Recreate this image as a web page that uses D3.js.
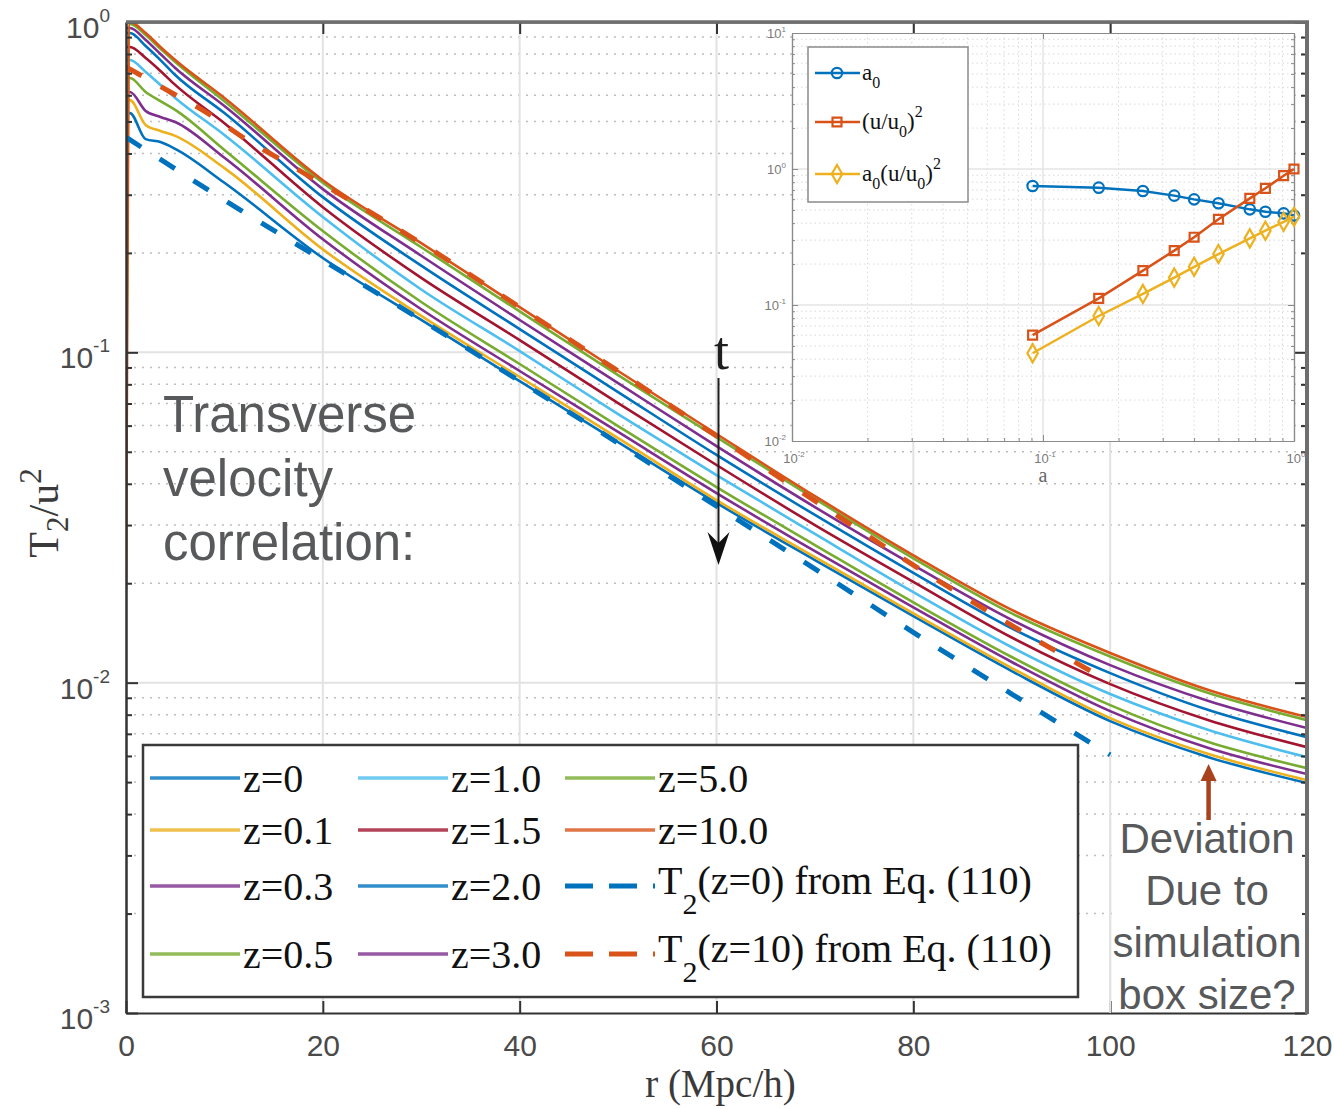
<!DOCTYPE html>
<html>
<head>
<meta charset="utf-8">
<script src="https://cdn.jsdelivr.net/npm/d3@7"></script>
<style>
body { margin: 0; background: #fff; }
text { font-family: "Liberation Sans", Arial, sans-serif; }
.serif { font-family: "Liberation Serif", "Times New Roman", serif; }
</style>
</head>
<body>
<div id="chart-area"></div>
<script>
// DATA
var rGrid = [0, 0.4, 2, 3.5, 5, 10, 20, 30, 40, 50, 60, 70, 80, 90, 100, 110, 120];

var t2_z0   = [0.530, 0.530, 0.442, 0.433, 0.413, 0.326, 0.193, 0.1253, 0.0818, 0.0535, 0.0350, 0.0235, 0.0159, 0.01084, 0.00765, 0.00595, 0.00497];
var t2_z0_1 = [0.580, 0.580, 0.488, 0.468, 0.452, 0.361, 0.205, 0.129, 0.0842, 0.0550, 0.0357, 0.0240, 0.0162, 0.01107, 0.00781, 0.00608, 0.00507];
var t2_z0_3 = [0.614, 0.614, 0.538, 0.516, 0.498, 0.388, 0.220, 0.135, 0.0878, 0.0574, 0.0375, 0.0250, 0.0169, 0.01155, 0.00820, 0.00634, 0.00529];
var t2_z0_5 = [0.677, 0.677, 0.614, 0.576, 0.542, 0.410, 0.233, 0.142, 0.0922, 0.0598, 0.0391, 0.0261, 0.0175, 0.01196, 0.00855, 0.00661, 0.00551];
var t2_z1_0 = [0.767, 0.767, 0.706, 0.645, 0.589, 0.455, 0.257, 0.155, 0.1009, 0.0650, 0.0425, 0.0282, 0.0188, 0.0128, 0.00924, 0.00719, 0.00595];
var t2_z1_5 = [0.840, 0.840, 0.778, 0.711, 0.645, 0.494, 0.275, 0.168, 0.1089, 0.0702, 0.0456, 0.0300, 0.0202, 0.0137, 0.00990, 0.00770, 0.00638];
var t2_z2_0 = [0.926, 0.926, 0.846, 0.767, 0.691, 0.530, 0.295, 0.183, 0.1176, 0.0758, 0.0489, 0.0322, 0.0215, 0.0146, 0.01069, 0.00826, 0.00684];
var t2_z3_0 = [0.959, 0.959, 0.882, 0.800, 0.726, 0.557, 0.312, 0.196, 0.1253, 0.0807, 0.0520, 0.0340, 0.0227, 0.0155, 0.0113, 0.00880, 0.00729];
var t2_z5_0 = [0.0496, 0.986, 0.913, 0.829, 0.757, 0.576, 0.326, 0.208, 0.133, 0.0853, 0.0554, 0.0360, 0.0238, 0.0162, 0.0120, 0.00930, 0.00770];
var t2_z10  = [0.0191, 1.000, 0.926, 0.840, 0.767, 0.589, 0.332, 0.214, 0.137, 0.0878, 0.0566, 0.0367, 0.0243, 0.0166, 0.0123, 0.00950, 0.00787];

var rEqZ0 = [0, 10, 20, 30, 40, 50, 60, 70, 80, 90, 100];
var eqZ0  = [0.448, 0.289, 0.190, 0.1253, 0.0818, 0.0531, 0.0342, 0.0221, 0.0142, 0.00924, 0.00604];
var rEqZ10 = [0, 4.5, 8.4, 12, 15.8, 19.6, 30, 40, 50, 60, 70, 80, 90, 100];
var eqZ10  = [0.731, 0.614, 0.527, 0.445, 0.382, 0.328, 0.214, 0.137, 0.0878, 0.0558, 0.0355, 0.0227, 0.0149, 0.01004];

var zLabels = ["z=0", "z=0.1", "z=0.3", "z=0.5", "z=1.0", "z=1.5", "z=2.0", "z=3.0", "z=5.0", "z=10.0"];
var zColors = ["#0072BD", "#EDB120", "#7E2F8E", "#77AC30", "#4DBEEE", "#A2142F", "#0072BD", "#7E2F8E", "#77AC30", "#D95319"];
var zSeries = [t2_z0, t2_z0_1, t2_z0_3, t2_z0_5, t2_z1_0, t2_z1_5, t2_z2_0, t2_z3_0, t2_z5_0, t2_z10];

var xTicks = [0, 20, 40, 60, 80, 100, 120];
var yTicks = [1, 1e-1, 1e-2, 1e-3];
var yTickExp = ["0", "-1", "-2", "-3"];

// inset data
var aVals   = [0.0909, 0.1667, 0.25, 0.3333, 0.4, 0.5, 0.6667, 0.7692, 0.9091, 1.0];
var a0      = [0.750, 0.729, 0.689, 0.637, 0.598, 0.560, 0.505, 0.485, 0.472, 0.455];
var uRatio2 = [0.0601, 0.112, 0.179, 0.251, 0.315, 0.427, 0.608, 0.721, 0.893, 1.0];
var a0u2    = [0.0442, 0.083, 0.1205, 0.159, 0.191, 0.237, 0.309, 0.352, 0.409, 0.446];
var insetXTicks = [0.01, 0.1, 1];
var insetXExp = ["-2", "-1", "0"];
var insetYTicks = [10, 1, 0.1, 0.01];
var insetYExp = ["1", "0", "-1", "-2"];

// LAYOUT
var frame = { left: 126, right: 1307, top: 22, bottom: 1013 };
var box = { left: 792, right: 1294, top: 33, bottom: 441 };

var svg = d3.select("#chart-area").append("svg")
	.attr("width", 1334)
	.attr("height", 1109);

// SCALES
var x = d3.scaleLinear().domain([0, 120]).range([frame.left, frame.right]);
var y = d3.scaleLog().domain([1e-3, 1]).range([frame.bottom, frame.top]);

var minorOf = function (decades) {
	var out = [];
	decades.forEach(function (d) {
		d3.range(2, 10).forEach(function (m) { out.push(m * d); });
	});
	return out;
};
var yMinor = minorOf([1e-3, 1e-2, 1e-1]);

// GRID
var grid = svg.append("g");
grid.selectAll(".ymin").data(yMinor).enter().append("line")
	.attr("x1", frame.left).attr("x2", frame.right)
	.attr("y1", function (d) { return y(d); }).attr("y2", function (d) { return y(d); })
	.attr("stroke", "#bdbdbd").attr("stroke-width", 1.5).attr("stroke-dasharray", "2,6");
grid.selectAll(".xmaj").data(xTicks.slice(1, -1)).enter().append("line")
	.attr("x1", function (d) { return x(d); }).attr("x2", function (d) { return x(d); })
	.attr("y1", frame.top).attr("y2", frame.bottom)
	.attr("stroke", "#e2e2e2").attr("stroke-width", 2);
grid.selectAll(".ymaj").data(yTicks.slice(1, -1)).enter().append("line")
	.attr("x1", frame.left).attr("x2", frame.right)
	.attr("y1", function (d) { return y(d); }).attr("y2", function (d) { return y(d); })
	.attr("stroke", "#e2e2e2").attr("stroke-width", 2);

// CURVES
svg.append("clipPath").attr("id", "clip").append("rect")
	.attr("x", frame.left).attr("y", frame.top)
	.attr("width", frame.right - frame.left).attr("height", frame.bottom - frame.top);

var line = d3.line()
	.x(function (d) { return x(d[0]); })
	.y(function (d) { return y(d[1]); })
	.curve(d3.curveMonotoneX);

var curves = svg.append("g").attr("clip-path", "url(#clip)");
zSeries.forEach(function (vals, i) {
	curves.append("path")
		.datum(rGrid.map(function (r, j) { return [r, vals[j]]; }))
		.attr("fill", "none")
		.attr("stroke", zColors[i])
		.attr("stroke-width", 2.6)
		.attr("d", line);
});
curves.append("path")
	.datum(rEqZ0.map(function (r, j) { return [r, eqZ0[j]]; }))
	.attr("fill", "none").attr("stroke", "#0072BD").attr("stroke-width", 5)
	.attr("stroke-dasharray", "18,22").attr("d", line);
curves.append("path")
	.datum(rEqZ10.map(function (r, j) { return [r, eqZ10[j]]; }))
	.attr("fill", "none").attr("stroke", "#D95319").attr("stroke-width", 5)
	.attr("stroke-dasharray", "18,22").attr("d", line);

// AXES
var axisColor = "#333";
var xAxis = svg.append("g")
	.attr("transform", "translate(0," + frame.bottom + ")")
	.call(d3.axisBottom(x).tickValues(xTicks).tickSize(-12).tickSizeOuter(0).tickPadding(22));
xAxis.selectAll("text").attr("font-size", "30px").attr("fill", "#4a4a4a")
	.attr("font-family", "'Liberation Sans', Arial, sans-serif");

svg.append("g").attr("transform", "translate(0," + frame.top + ")")
	.call(d3.axisTop(x).tickValues(xTicks.slice(1, -1)).tickSize(-12).tickSizeOuter(0).tickFormat(""));

svg.append("g").attr("transform", "translate(" + frame.left + ",0)")
	.call(d3.axisLeft(y).tickValues(yTicks).tickSize(-12).tickSizeOuter(0).tickFormat(""));
svg.append("g").attr("transform", "translate(" + frame.left + ",0)")
	.call(d3.axisLeft(y).tickValues(yMinor).tickSize(-6).tickSizeOuter(0).tickFormat(""));
svg.append("g").attr("transform", "translate(" + frame.right + ",0)")
	.call(d3.axisRight(y).tickValues(yTicks).tickSize(-12).tickSizeOuter(0).tickFormat(""));
svg.append("g").attr("transform", "translate(" + frame.right + ",0)")
	.call(d3.axisRight(y).tickValues(yMinor).tickSize(-6).tickSizeOuter(0).tickFormat(""));

svg.selectAll(".domain").attr("stroke", axisColor).attr("stroke-width", 2);
svg.selectAll(".tick line").attr("stroke", axisColor).attr("stroke-width", 2);

// heavier top / right frame
svg.append("line").attr("x1", frame.left).attr("x2", frame.right + 2)
	.attr("y1", frame.top).attr("y2", frame.top).attr("stroke", "#6e6e6e").attr("stroke-width", 3.5);
svg.append("line").attr("x1", frame.right).attr("x2", frame.right)
	.attr("y1", frame.top).attr("y2", frame.bottom + 1).attr("stroke", "#6e6e6e").attr("stroke-width", 4);

// Y TICK LABELS
var yLab = svg.append("g");
yTicks.forEach(function (v, i) {
	var t = yLab.append("text")
		.attr("x", 110).attr("y", y(v) + 16)
		.attr("text-anchor", "end")
		.attr("fill", "#4a4a4a").attr("font-size", "30px");
	t.append("tspan").text("10");
	t.append("tspan").attr("dy", -16).attr("font-size", "19px").text(yTickExp[i]);
});

// AXIS TITLES
svg.append("text").attr("class", "serif")
	.attr("x", (frame.left + frame.right) / 2 + 4).attr("y", 1097)
	.attr("text-anchor", "middle").attr("font-size", "39px").attr("fill", "#3a3a3a")
	.text("r (Mpc/h)");

var yl = svg.append("text").attr("class", "serif")
	.attr("transform", "translate(58,513) rotate(-90)")
	.attr("text-anchor", "middle").attr("font-size", "42px").attr("fill", "#3a3a3a");
yl.append("tspan").text("T");
yl.append("tspan").attr("dy", 10).attr("font-size", "31px").text("2");
yl.append("tspan").attr("dy", -10).text("/u");
yl.append("tspan").attr("dy", -17).attr("font-size", "31px").text("2");

// ANNOTATIONS
var gray = "#58595b";
["Transverse", "velocity", "correlation:"].forEach(function (s, i) {
	svg.append("text").attr("x", 163).attr("y", 432 + i * 64)
		.attr("font-size", "51px").attr("fill", gray).text(s);
});

svg.append("text").attr("class", "serif")
	.attr("x", x(60) + 5).attr("y", 369).attr("text-anchor", "middle")
	.attr("font-size", "54px").attr("fill", "#1e1e1e").text("t");
svg.append("line").attr("x1", x(60) + 2).attr("x2", x(60) + 2)
	.attr("y1", 378).attr("y2", 548).attr("stroke", "#1e1e1e").attr("stroke-width", 2);
var ax = x(60) + 2;
svg.append("path")
	.attr("d", "M" + ax + ",565 L" + (ax - 11) + ",532 L" + ax + ",543 L" + (ax + 11) + ",532 Z")
	.attr("fill", "#111");

// deviation note
svg.append("rect").attr("x", 1112).attr("y", 818).attr("width", 190).attr("height", 192).attr("fill", "#fff");
svg.append("line").attr("x1", x(100)).attr("x2", x(100)).attr("y1", 818).attr("y2", frame.bottom)
	.attr("stroke", "#e2e2e2").attr("stroke-width", 2);
["Deviation", "Due to", "simulation", "box size?"].forEach(function (s, i) {
	svg.append("text").attr("x", 1207).attr("y", 853 + i * 52)
		.attr("text-anchor", "middle").attr("font-size", "42px").attr("fill", gray).text(s);
});
var devX = x(110);
svg.append("line").attr("x1", devX).attr("x2", devX).attr("y1", 820).attr("y2", 778)
	.attr("stroke", "#a8431e").attr("stroke-width", 4.5);
svg.append("path")
	.attr("d", "M" + devX + ",764 L" + (devX - 8) + ",781 L" + (devX + 8) + ",781 Z")
	.attr("fill", "#a8431e");

// LEGEND
svg.append("rect").attr("x", 143).attr("y", 745).attr("width", 935).attr("height", 252)
	.attr("fill", "#fff").attr("stroke", "#3a3a3a").attr("stroke-width", 2.5);

var legendItems = zLabels.map(function (l, i) { return { label: l, color: zColors[i], dash: false }; });
legendItems.push({ label: "T2(z=0) from Eq. (110)", eq: "(z=0) from Eq. (110)", color: "#0072BD", dash: true });
legendItems.push({ label: "T2(z=10) from Eq. (110)", eq: "(z=10) from Eq. (110)", color: "#D95319", dash: true });

var colX = [150, 358, 565];
var rowBase = [792, 844, 900, 968];
legendItems.forEach(function (d, i) {
	var c = Math.floor(i / 4), r = i % 4;
	var x0 = colX[c], yb = rowBase[r], ym = yb - 14;
	var ln = svg.append("line").attr("x1", x0).attr("x2", x0 + 90)
		.attr("y1", ym).attr("y2", ym).attr("stroke", d.color);
	if (d.dash) {
		ln.attr("stroke-width", 5).attr("stroke-dasharray", "28,16");
	} else {
		ln.attr("stroke-width", 3.5).attr("opacity", 0.8);
	}
	var t = svg.append("text").attr("class", "serif")
		.attr("x", x0 + 93).attr("y", d.dash ? yb - 6 : yb)
		.attr("font-size", "40px").attr("fill", "#111");
	if (d.dash) {
		t.append("tspan").text("T");
		t.append("tspan").attr("dy", 20).attr("font-size", "30px").text("2");
		t.append("tspan").attr("dy", -20).text(d.eq);
	} else {
		t.text(d.label);
	}
});

// INSET
var ix = d3.scaleLog().domain([0.01, 1]).range([box.left, box.right]);
var iy = d3.scaleLog().domain([0.01, 10]).range([box.bottom, box.top]);
var ixMinor = minorOf([0.01, 0.1]);
var iyMinor = minorOf([0.01, 0.1, 1]);

var ins = svg.append("g");
ins.append("rect").attr("x", box.left).attr("y", box.top)
	.attr("width", box.right - box.left).attr("height", box.bottom - box.top).attr("fill", "#fff");

ins.selectAll(".ixm").data(ixMinor).enter().append("line")
	.attr("x1", function (d) { return ix(d); }).attr("x2", function (d) { return ix(d); })
	.attr("y1", box.top).attr("y2", box.bottom)
	.attr("stroke", "#d9d9d9").attr("stroke-width", 1).attr("stroke-dasharray", "1.5,3");
ins.selectAll(".iym").data(iyMinor).enter().append("line")
	.attr("x1", box.left).attr("x2", box.right)
	.attr("y1", function (d) { return iy(d); }).attr("y2", function (d) { return iy(d); })
	.attr("stroke", "#d9d9d9").attr("stroke-width", 1).attr("stroke-dasharray", "1.5,3");
ins.selectAll(".ixM").data([0.1]).enter().append("line")
	.attr("x1", function (d) { return ix(d); }).attr("x2", function (d) { return ix(d); })
	.attr("y1", box.top).attr("y2", box.bottom).attr("stroke", "#e4e4e4").attr("stroke-width", 1.5);
ins.selectAll(".iyM").data([1, 0.1]).enter().append("line")
	.attr("x1", box.left).attr("x2", box.right)
	.attr("y1", function (d) { return iy(d); }).attr("y2", function (d) { return iy(d); })
	.attr("stroke", "#e4e4e4").attr("stroke-width", 1.5);

var insAxes = [
	[d3.axisBottom(ix).tickValues(insetXTicks).tickSize(-6), "translate(0," + box.bottom + ")"],
	[d3.axisBottom(ix).tickValues(ixMinor).tickSize(-3), "translate(0," + box.bottom + ")"],
	[d3.axisTop(ix).tickValues(insetXTicks).tickSize(-6), "translate(0," + box.top + ")"],
	[d3.axisLeft(iy).tickValues(insetYTicks).tickSize(-6), "translate(" + box.left + ",0)"],
	[d3.axisLeft(iy).tickValues(iyMinor).tickSize(-3), "translate(" + box.left + ",0)"],
	[d3.axisRight(iy).tickValues(insetYTicks).tickSize(-6), "translate(" + box.right + ",0)"],
	[d3.axisRight(iy).tickValues(iyMinor).tickSize(-3), "translate(" + box.right + ",0)"]
];
insAxes.forEach(function (a) {
	ins.append("g").attr("transform", a[1])
		.call(a[0].tickSizeOuter(0).tickFormat(""))
		.call(function (g) {
			g.selectAll(".domain").attr("stroke", "#8a8a8a").attr("stroke-width", 1.2);
			g.selectAll(".tick line").attr("stroke", "#8a8a8a").attr("stroke-width", 1);
		});
});

insetYTicks.forEach(function (v, i) {
	var t = ins.append("text").attr("x", box.left - 6).attr("y", iy(v) + 5)
		.attr("text-anchor", "end").attr("fill", "#7a7a7a").attr("font-size", "13px");
	t.append("tspan").text("10");
	t.append("tspan").attr("dy", -6).attr("font-size", "8px").text(insetYExp[i]);
});
insetXTicks.forEach(function (v, i) {
	var t = ins.append("text").attr("x", ix(v) + 2).attr("y", box.bottom + 22)
		.attr("text-anchor", "middle").attr("fill", "#7a7a7a").attr("font-size", "13px");
	t.append("tspan").text("10");
	t.append("tspan").attr("dy", -6).attr("font-size", "8px").text(insetXExp[i]);
});
ins.append("text").attr("class", "serif").attr("x", ix(0.1)).attr("y", box.bottom + 41)
	.attr("text-anchor", "middle").attr("font-size", "20px").attr("fill", "#666").text("a");

var iline = d3.line()
	.x(function (d) { return ix(d[0]); })
	.y(function (d) { return iy(d[1]); });

var insetSeries = [
	{ vals: a0, color: "#0072BD", shape: d3.symbolCircle, size: 85 },
	{ vals: uRatio2, color: "#D95319", shape: d3.symbolSquare, size: 80 },
	{ vals: a0u2, color: "#EDB120", shape: d3.symbolDiamond, size: 95 }
];
insetSeries.forEach(function (s) {
	var pts = aVals.map(function (a, j) { return [a, s.vals[j]]; });
	ins.append("path").datum(pts).attr("fill", "none").attr("stroke", s.color)
		.attr("stroke-width", 2.5).attr("d", iline);
	ins.selectAll(null).data(pts).enter().append("path")
		.attr("transform", function (d) { return "translate(" + ix(d[0]) + "," + iy(d[1]) + ")"; })
		.attr("d", d3.symbol().type(s.shape).size(s.size))
		.attr("fill", "none").attr("stroke", s.color).attr("stroke-width", 2.2);
});

// inset legend
ins.append("rect").attr("x", 808).attr("y", 47).attr("width", 160).attr("height", 155)
	.attr("fill", "#fff").attr("stroke", "#8a8a8a").attr("stroke-width", 1.5);
var insetLabels = [
	[["a", 0], ["0", 8, 16]],
	[["(u/u", 0], ["0", 8, 16], [")", -8], ["2", -12, 16]],
	[["a", 0], ["0", 8, 16], ["(u/u", -8], ["0", 8, 16], [")", -8], ["2", -12, 16]]
];
var insetRows = [73, 122, 174];
insetSeries.forEach(function (s, i) {
	var yy = insetRows[i];
	ins.append("line").attr("x1", 815).attr("x2", 860).attr("y1", yy).attr("y2", yy)
		.attr("stroke", s.color).attr("stroke-width", 2.5);
	ins.append("path").attr("transform", "translate(837," + yy + ")")
		.attr("d", d3.symbol().type(s.shape).size(s.size))
		.attr("fill", "none").attr("stroke", s.color).attr("stroke-width", 2.2);
	var t = ins.append("text").attr("class", "serif").attr("x", 862).attr("y", yy + 7)
		.attr("font-size", "23px").attr("fill", "#111");
	insetLabels[i].forEach(function (p) {
		var sp = t.append("tspan").attr("dy", p[1]).text(p[0]);
		if (p[2]) sp.attr("font-size", p[2] + "px");
	});
});
</script>
</body>
</html>
